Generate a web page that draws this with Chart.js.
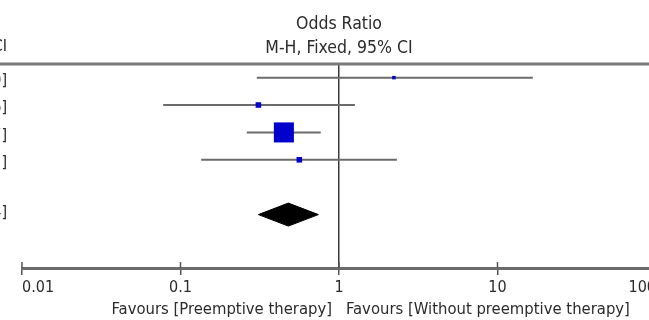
<!DOCTYPE html>
<html>
<head>
<meta charset="utf-8">
<script src="https://cdn.jsdelivr.net/npm/chart.js@4/dist/chart.umd.min.js"></script>
<style>
  html, body { margin: 0; padding: 0; background: #fff; overflow: hidden; }
  #wrap { position: relative; width: 680px; height: 320px; }
</style>
</head>
<body>
<div id="wrap"><canvas id="forest"></canvas></div>
<script>
/* ---------- data ---------- */
const rows = [1, 2, 3, 4];
const orEst = [2.22, 0.31, 0.449, 0.562];
const ciLow = [0.303, 0.0778, 0.262, 0.135];
const ciHigh = [16.7, 1.26, 0.767, 2.32];
const weights = [2.5, 6.5, 84.5, 6.5];

const totalRow = 6;
const totalEst = 0.479;
const totalLow = 0.31;
const totalHigh = 0.741;

const tickValues = [0.01, 0.1, 1, 10, 100];
const tickLabels = ["0.01", "0.1", "1", "10", "100"];
const titleLines = ["Odds Ratio", "M-H, Fixed, 95% CI"];
const favours = ["Favours [Preemptive therapy]", "Favours [Without preemptive therapy]"];

/* ---------- helpers ---------- */
const FONT = "'Liberation Sans Narrow', 'Arial Narrow', 'DejaVu Sans Condensed', sans-serif";
const TEXT = "#2b2b2b";
const f2 = (v) => Number(v).toFixed(2);
const ciText = (e, l, h) => `${f2(e)} [${f2(l)}, ${f2(h)}]`;

const ciLines = rows.map((r, i) => ({
  type: "line",
  data: [{ x: ciLow[i], y: r }, { x: ciHigh[i], y: r }],
  borderColor: "#6b6b6b", borderWidth: 2, pointRadius: 0, order: 3,
}));

const squares = {
  type: "scatter",
  data: rows.map((r, i) => ({ x: orEst[i], y: r })),
  pointStyle: "rect",
  pointRadius: weights.map((w) => (Math.sqrt(w) * 2.18) / Math.SQRT2),
  backgroundColor: "#0000cc", borderColor: "#0000aa", borderWidth: 0, order: 1,
};

const halfH = 0.42;
const diamondTop = {
  type: "line",
  data: [
    { x: totalLow, y: totalRow }, { x: totalEst, y: totalRow - halfH }, { x: totalHigh, y: totalRow },
  ],
  fill: "+1", backgroundColor: "#000", borderColor: "#000", borderWidth: 1, pointRadius: 0, order: 2,
};
const diamondBottom = {
  type: "line",
  data: [
    { x: totalLow, y: totalRow }, { x: totalEst, y: totalRow + halfH }, { x: totalHigh, y: totalRow },
  ],
  fill: false, borderColor: "#000", borderWidth: 1, pointRadius: 0, order: 2,
};

/* ---------- extra text & rules ---------- */
const decor = {
  id: "decor",
  afterDraw(chart) {
    const { ctx, chartArea, scales } = chart;
    const xs = scales.x, ys = scales.y;
    ctx.save();

    // header rule
    ctx.strokeStyle = "#7a7a7a";
    ctx.lineWidth = 3;
    ctx.beginPath();
    ctx.moveTo(0, chartArea.top);
    ctx.lineTo(chart.width, chartArea.top);
    ctx.stroke();

    // tick marks crossing the axis
    ctx.strokeStyle = "#555";
    ctx.lineWidth = 1.5;
    tickValues.forEach((v) => {
      const px = xs.getPixelForValue(v);
      ctx.beginPath();
      ctx.moveTo(px, chartArea.bottom - 6);
      ctx.lineTo(px, chartArea.bottom);
      ctx.stroke();
    });

    // clipped left column (estimates column of the original table)
    ctx.fillStyle = TEXT;
    ctx.font = `16px ${FONT}`;
    ctx.textAlign = "right";
    ctx.textBaseline = "middle";
    ctx.fillText(titleLines[1], 7, 47);
    rows.forEach((r, i) => {
      ctx.fillText(ciText(orEst[i], ciLow[i], ciHigh[i]), 7, ys.getPixelForValue(r) + 3);
    });
    ctx.fillText(ciText(totalEst, totalLow, totalHigh), 7, ys.getPixelForValue(totalRow) - 2);

    // favours labels
    const one = xs.getPixelForValue(1);
    ctx.font = `16.5px ${FONT}`;
    ctx.textAlign = "right";
    ctx.fillText(favours[0], one - 7, 310);
    ctx.textAlign = "left";
    ctx.fillText(favours[1], one + 7, 310);
    ctx.restore();
  },
};

/* ---------- chart ---------- */
new Chart(document.getElementById("forest"), {
  type: "scatter",
  data: { datasets: [squares, diamondTop, diamondBottom, ...ciLines] },
  options: {
    responsive: true, maintainAspectRatio: false, animation: false,
    layout: { padding: { left: 22, right: 24, top: 0, bottom: 0 } },
    plugins: {
      legend: { display: false },
      tooltip: { enabled: false },
      title: {
        display: true, text: titleLines, color: TEXT,
        font: { family: FONT, size: 17.5, weight: "normal", lineHeight: 1.37 },
        padding: { top: 12, bottom: 4 },
      },
    },
    scales: {
      x: {
        type: "logarithmic", min: 0.01, max: 100, position: "bottom",
        afterBuildTicks: (s) => { s.ticks = tickValues.map((v) => ({ value: v })); },
        afterFit: (s) => { s.height = 52; },
        ticks: {
          autoSkip: false, maxRotation: 0, align: "inner", padding: 3, color: TEXT,
          font: { family: FONT, size: 16 },
          callback: (v, i) => tickLabels[i],
        },
        grid: {
          color: (c) => (c.tick && c.tick.value === 1 ? "#3a3a3a" : "rgba(0,0,0,0)"),
          lineWidth: 1.5, drawTicks: true, tickLength: 7, tickColor: "#555", tickWidth: 1.5,
        },
        border: { color: "#6b6b6b", width: 3 },
      },
      y: { type: "linear", reverse: true, min: 0.5, max: 7.95, display: false },
    },
  },
  plugins: [decor],
});
</script>
</body>
</html>
